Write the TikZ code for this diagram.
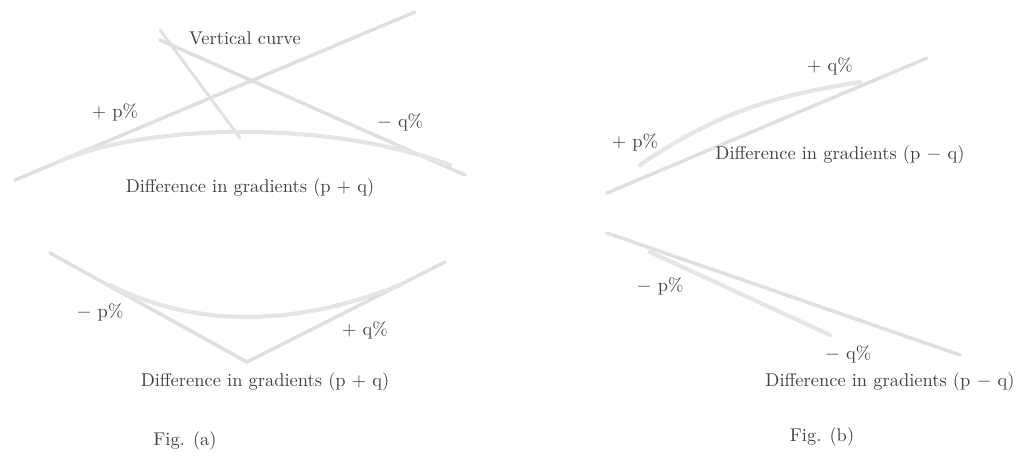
\documentclass[tikz,border=0pt]{standalone}
\usetikzlibrary{calc}
\begin{document}
\begin{tikzpicture}[x=0.02cm,y=-0.02cm,
  grade/.style={draw=gray!25,line width=2pt,line cap=round},
  vcurve/.style={draw=gray!20,line width=2.4pt,line cap=round},
  leader/.style={draw=gray!25,line width=1.6pt,line cap=round},
  lbl/.style={font=\fontsize{10.5}{12}\selectfont,text=black!75,inner sep=1pt},
  figcap/.style={font=\fontsize{10.5}{12}\selectfont,text=black!75,inner sep=1pt}]
\useasboundingbox (0,0) rectangle (1023,458);

% ---- (a) summit: rising and falling gradients crossing, curve below
\coordinate (a1s) at (15,180);   \coordinate (a1e) at (415,12);
\coordinate (a2s) at (160,40);   \coordinate (a2e) at (465,175);
\coordinate (a3s) at (160,30);   \coordinate (a3e) at (240,138);
\coordinate (acs) at (60,161);   \coordinate (ace) at (450,165);
\draw[grade] (a1s) -- (a1e);
\draw[grade] (a2s) -- (a2e);
\draw[leader] (a3s) -- (a3e);
\draw[vcurve] (acs) .. controls (150,123) and (330,120) .. (ace);
\node[lbl] (vc) at (245,38) {Vertical curve};
\node[lbl] (pa) at (115,112) {+ p\%};
\node[lbl] (qa) at (400,122) {$-$ q\%};
\node[lbl] (da) at (250,188) {Difference in gradients (p + q)};

% ---- (a) valley: falling then rising gradient
\coordinate (b1s) at (50,253);   \coordinate (bv) at (247,362);
\coordinate (b2e) at (445,262);
\coordinate (bcs) at (110,285);  \coordinate (bce) at (400,285);
\draw[grade] (b1s) -- (bv) -- (b2e);
\draw[vcurve] (bcs) .. controls (200,330) and (300,325) .. (bce);
\node[lbl] (pb) at (100,312) {$-$ p\%};
\node[lbl] (qb) at (365,330) {+ q\%};
\node[lbl] (db) at (265,382) {Difference in gradients (p + q)};
\node[figcap] (fa) at (185,441) {Fig. (a)};

% ---- (b) two rising gradients
\coordinate (c1s) at (607,193);  \coordinate (c1e) at (927,58);
\coordinate (ccs) at (640,165);  \coordinate (cce) at (860,82);
\draw[grade] (c1s) -- (c1e);
\draw[vcurve] (ccs) .. controls (720,110) and (780,95) .. (cce);
\node[lbl] (qc) at (830,66) {+ q\%};
\node[lbl] (pc) at (635,142) {+ p\%};
\node[lbl] (dc) at (840,155) {Difference in gradients (p $-$ q)};

% ---- (b) two falling gradients
\coordinate (d1s) at (607,233);  \coordinate (d1e) at (960,355);
\coordinate (dcs) at (650,252);  \coordinate (dce) at (830,335);
\draw[grade] (d1s) -- (d1e);
\draw[vcurve] (dcs) -- (dce);
\node[lbl] (pd) at (660,286) {$-$ p\%};
\node[lbl] (qd) at (848,354) {$-$ q\%};
\node[lbl] (dd) at (890,382) {Difference in gradients (p $-$ q)};
\node[figcap] (fb) at (822,437) {Fig. (b)};
\end{tikzpicture}
\end{document}
